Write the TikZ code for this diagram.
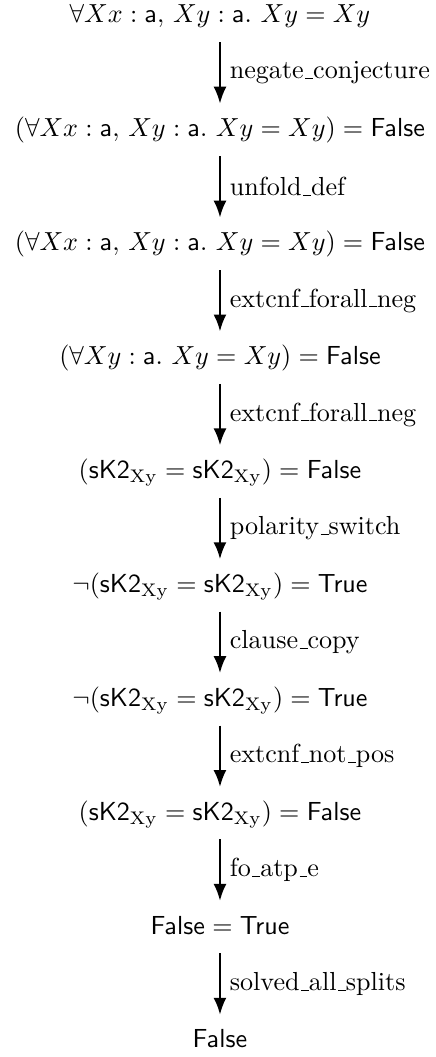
\documentclass[tikz,border=0pt]{standalone}
\usepackage{amsmath}
\usepackage{tikz}
\usetikzlibrary{arrows.meta}
% old-style underscore, a short rule on the baseline
\newcommand{\uscore}{\leavevmode\kern.06em\vbox{\hrule width.3em}}

\begin{document}
\begin{tikzpicture}[y=43.64pt,
  cell/.style={anchor=base, inner sep=5pt, text height=7.5pt, text depth=2.2pt},
  infer/.style={line width=0.9pt,-{Latex[length=6.5pt,width=5pt]}}]
\useasboundingbox (-84.3pt,8.8pt) rectangle (82.7pt,-396.25pt);
\node[cell] (n1) at (0,0) {$\forall Xx : \mathsf{a},\, Xy : \mathsf{a}.\ Xy = Xy$};
\node[cell] (n2) at (0,-1) {$(\forall Xx : \mathsf{a},\, Xy : \mathsf{a}.\ Xy = Xy) = \mathsf{False}$};
\node[cell] (n3) at (0,-2) {$(\forall Xx : \mathsf{a},\, Xy : \mathsf{a}.\ Xy = Xy) = \mathsf{False}$};
\node[cell] (n4) at (0,-3) {$(\forall Xy : \mathsf{a}.\ Xy = Xy) = \mathsf{False}$};
\node[cell] (n5) at (0,-4) {$(\mathsf{sK2}_{\mathrm{Xy}} = \mathsf{sK2}_{\mathrm{Xy}}) = \mathsf{False}$};
\node[cell] (n6) at (0,-5) {$\neg(\mathsf{sK2}_{\mathrm{Xy}} = \mathsf{sK2}_{\mathrm{Xy}}) = \mathsf{True}$};
\node[cell] (n7) at (0,-6) {$\neg(\mathsf{sK2}_{\mathrm{Xy}} = \mathsf{sK2}_{\mathrm{Xy}}) = \mathsf{True}$};
\node[cell] (n8) at (0,-7) {$(\mathsf{sK2}_{\mathrm{Xy}} = \mathsf{sK2}_{\mathrm{Xy}}) = \mathsf{False}$};
\node[cell] (n9) at (0,-8) {$\mathsf{False} = \mathsf{True}$};
\node[cell] (n10) at (0,-9) {$\mathsf{False}$};

\draw[infer] (n1) -- node[right] {negate\uscore conjecture} (n2);
\draw[infer] (n2) -- node[right] {unfold\uscore def} (n3);
\draw[infer] (n3) -- node[right] {extcnf\uscore forall\uscore neg} (n4);
\draw[infer] (n4) -- node[right] {extcnf\uscore forall\uscore neg} (n5);
\draw[infer] (n5) -- node[right] {polarity\uscore switch} (n6);
\draw[infer] (n6) -- node[right] {clause\uscore copy} (n7);
\draw[infer] (n7) -- node[right] {extcnf\uscore not\uscore pos} (n8);
\draw[infer] (n8) -- node[right] {fo\uscore atp\uscore e} (n9);
\draw[infer] (n9) -- node[right] {solved\uscore all\uscore splits} (n10);
\end{tikzpicture}
\end{document}
